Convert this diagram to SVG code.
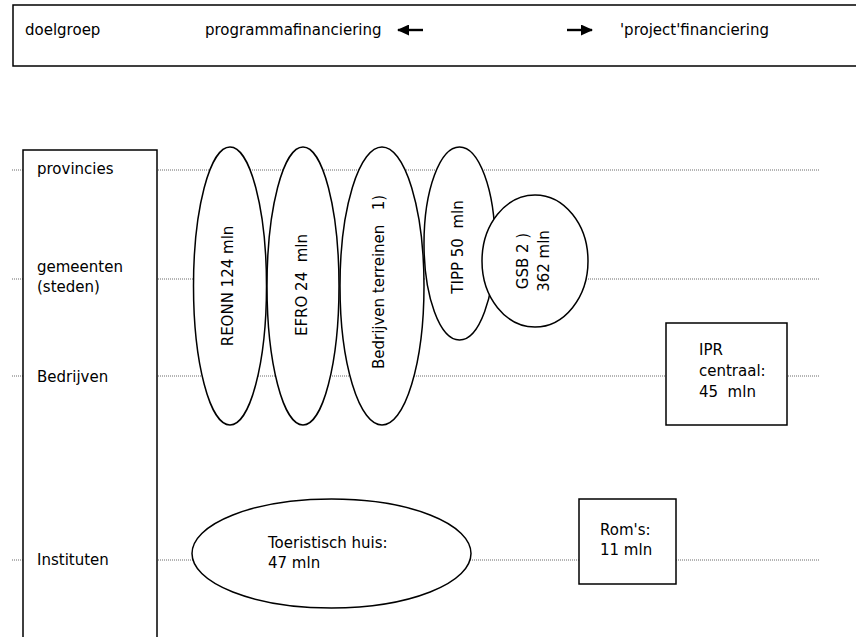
<svg xmlns="http://www.w3.org/2000/svg" width="856" height="637" viewBox="0 0 856 637">
<style>
text{font-family:"DejaVu Sans","Liberation Sans",sans-serif;font-size:15px;fill:#000}
.shape{fill:#fff;stroke:#000;stroke-width:1.5}
.dot{stroke:#444;stroke-width:0.8;stroke-dasharray:1 1;fill:none}
.arr{stroke:#000;stroke-width:2.4;fill:none}
</style>
<defs>
<marker id="ah" markerWidth="12" markerHeight="11" refX="11" refY="5.5" orient="auto" markerUnits="userSpaceOnUse">
<path d="M0,0 L12,5.5 L0,11 Z" fill="#000"/>
</marker>
</defs>
<rect width="856" height="637" fill="#fff"/>
<g id="header">
<rect x="13" y="5" width="860" height="61" fill="#fff" stroke="#000" stroke-width="1.5"/>
<text x="25" y="35">doelgroep</text>
<text x="205" y="35">programmafinanciering</text>
<text x="620" y="35">'project'financiering</text>
</g>
<g id="connectors">
<line class="dot" x1="12" y1="170" x2="820" y2="170"/>
<line class="dot" x1="12" y1="279" x2="820" y2="279"/>
<line class="dot" x1="12" y1="376" x2="820" y2="376"/>
<line class="dot" x1="12" y1="560" x2="820" y2="560"/>
<line class="arr" x1="423" y1="30" x2="398" y2="30" marker-end="url(#ah)"/>
<line class="arr" x1="567" y1="30" x2="592" y2="30" marker-end="url(#ah)"/>
</g>
<g id="doelgroep-kolom">
<rect class="shape" x="23" y="150" width="134" height="500"/>
<text x="37" y="174">provincies</text>
<text x="37" y="272">gemeenten</text>
<text x="37" y="292">(steden)</text>
<text x="37" y="382">Bedrijven</text>
<text x="37" y="565">Instituten</text>
</g>
<g id="reonn">
<ellipse class="shape" cx="230" cy="286" rx="36.5" ry="139"/>
<text transform="translate(233,286) rotate(-90)" text-anchor="middle">REONN 124 mln</text>
</g>
<g id="efro">
<ellipse class="shape" cx="303" cy="286" rx="36" ry="139"/>
<text transform="translate(307,285) rotate(-90)" text-anchor="middle" xml:space="preserve">EFRO 24  mln</text>
</g>
<g id="bedrijventerreinen">
<ellipse class="shape" cx="382" cy="286" rx="42" ry="139"/>
<text transform="translate(384,282) rotate(-90)" text-anchor="middle" xml:space="preserve">Bedrijven terreinen   1)</text>
</g>
<g id="tipp">
<ellipse class="shape" cx="459.5" cy="243.5" rx="35.5" ry="96.5"/>
<text transform="translate(463,247) rotate(-90)" text-anchor="middle" xml:space="preserve">TIPP 50  mln</text>
</g>
<g id="gsb">
<ellipse class="shape" cx="535" cy="261" rx="53" ry="66"/>
<text transform="translate(528,261) rotate(-90)" text-anchor="middle">GSB 2 )</text>
<text transform="translate(549,261) rotate(-90)" text-anchor="middle">362 mln</text>
</g>
<g id="ipr">
<rect class="shape" x="666" y="323" width="121" height="102"/>
<text x="699" y="355">IPR</text>
<text x="699" y="376">centraal:</text>
<text x="699" y="397" xml:space="preserve">45  mln</text>
</g>
<g id="toeristisch">
<ellipse class="shape" cx="331.5" cy="553.5" rx="139.5" ry="54.5"/>
<text x="268" y="548">Toeristisch huis:</text>
<text x="268" y="568">47 mln</text>
</g>
<g id="roms">
<rect class="shape" x="579" y="499" width="97" height="85"/>
<text x="600" y="535">Rom's:</text>
<text x="600" y="555">11 mln</text>
</g>
</svg>
